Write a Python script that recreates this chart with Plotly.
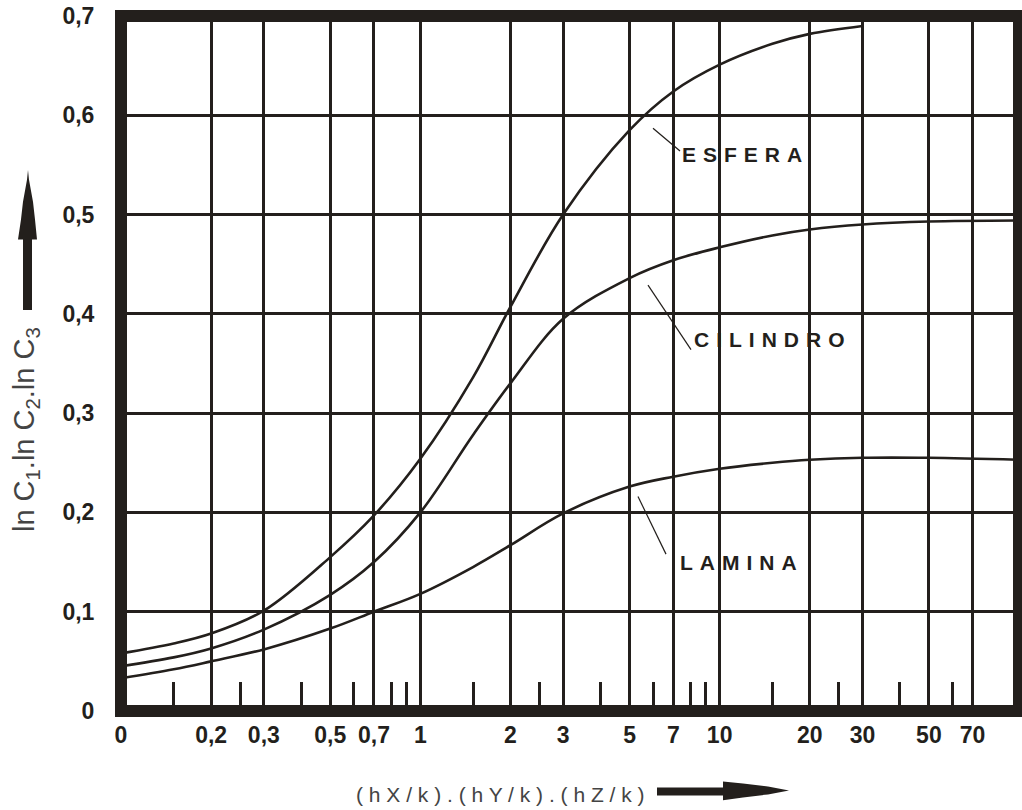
import plotly.graph_objects as go

# ---------------- data ----------------
esfera_x = [0.1, 0.15, 0.2, 0.3, 0.5, 0.7, 1, 1.5, 2, 3, 5, 7, 10, 15, 20, 30]
esfera_y = [0.058, 0.068, 0.078, 0.101, 0.155, 0.197, 0.254, 0.336, 0.407, 0.500,
            0.585, 0.624, 0.651, 0.672, 0.682, 0.690]

cilindro_x = [0.1, 0.15, 0.2, 0.3, 0.5, 0.7, 1, 1.5, 2, 3, 5, 7, 10, 15, 20, 30, 50, 100]
cilindro_y = [0.045, 0.054, 0.063, 0.082, 0.117, 0.150, 0.200, 0.278, 0.330, 0.395,
              0.436, 0.454, 0.467, 0.479, 0.485, 0.490, 0.493, 0.494]

lamina_x = [0.1, 0.15, 0.2, 0.3, 0.5, 0.7, 1, 1.5, 2, 3, 5, 7, 10, 15, 20, 30, 50, 100]
lamina_y = [0.033, 0.042, 0.050, 0.062, 0.083, 0.100, 0.118, 0.145, 0.167, 0.199,
            0.226, 0.236, 0.244, 0.250, 0.253, 0.255, 0.255, 0.253]

x_major = [0.1, 0.2, 0.3, 0.5, 0.7, 1, 2, 3, 5, 7, 10, 20, 30, 50, 70]
x_labels = ["0", "0,2", "0,3", "0,5", "0,7", "1", "2", "3", "5", "7", "10", "20", "30", "50", "70"]
x_minor = [0.15, 0.25, 0.4, 0.6, 0.8, 0.9, 1.5, 2.5, 4, 6, 8, 9, 15, 25, 40, 60]

y_major = [0, 0.1, 0.2, 0.3, 0.4, 0.5, 0.6, 0.7]
y_labels = ["0", "0,1", "0,2", "0,3", "0,4", "0,5", "0,6", "0,7"]

curve_names = ["ESFERA", "CILINDRO", "LAMINA"]

# ---------------- layout helpers ----------------
W, H = 1022, 810
L, R, T, B = 121, 3, 11, 99
PW, PH = W - L - R, H - T - B
INK = "#231f1c"
GREY = "#444444"
FONT = "Liberation Sans"


def px(x):
    return (x - L) / PW


def py(y):
    return (H - B - y) / PH


fig = go.Figure()
for xs, ys, name in [(esfera_x, esfera_y, curve_names[0]),
                     (cilindro_x, cilindro_y, curve_names[1]),
                     (lamina_x, lamina_y, curve_names[2])]:
    fig.add_trace(go.Scatter(x=xs, y=ys, mode="lines", name=name,
                             line=dict(color=INK, width=2.6, shape="spline", smoothing=1.0),
                             hoverinfo="skip", showlegend=False))

fig.update_layout(
    width=W, height=H,
    margin=dict(l=L, r=R, t=T, b=B, pad=0),
    paper_bgcolor="white", plot_bgcolor="white",
    showlegend=False,
    xaxis=dict(
        type="log", range=[-1, 2],
        tickmode="array", tickvals=x_major, ticktext=x_labels,
        ticks="outside", ticklen=3, tickcolor="rgba(0,0,0,0)",
        tickfont=dict(family=FONT, size=23, color=INK, weight="bold"),
        ticklabeloverflow="allow",
        showgrid=True, gridcolor=INK, gridwidth=3,
        zeroline=False, showline=False,
        minor=dict(tickmode="array", tickvals=x_minor, ticks="inside",
                   ticklen=29, tickwidth=3, tickcolor=INK, showgrid=False),
    ),
    yaxis=dict(
        range=[0, 0.7],
        tickmode="array", tickvals=y_major, ticktext=y_labels,
        ticks="outside", ticklen=21, tickcolor="rgba(0,0,0,0)",
        tickfont=dict(family=FONT, size=23, color=INK, weight="bold"),
        ticklabeloverflow="allow",
        showgrid=True, gridcolor=INK, gridwidth=3,
        zeroline=False, showline=False,
    ),
)

shapes = []
# thick frame
shapes.append(dict(type="rect", xref="paper", yref="paper", x0=0, x1=1, y0=0, y1=1,
                   line=dict(color=INK, width=12), layer="above"))

# leader lines for curve labels
for (x0, y0, x1, y1) in [(653, 124, 680, 147), (648, 282, 691, 347), (638, 495, 666, 553)]:
    shapes.append(dict(type="line", xref="paper", yref="paper",
                       x0=px(x0), y0=py(y0), x1=px(x1), y1=py(y1),
                       line=dict(color=INK, width=1.2)))

# vertical arrow (left)
va = [(23, 307), (32, 307), (32, 236), (37, 236), (35, 216), (33, 198), (29, 176), (28, 166),
      (27, 176), (23, 198), (21, 216), (18, 236), (23, 236)]
path = "M " + " L ".join(f"{px(a):.5f},{py(b):.5f}" for a, b in va) + " Z"
shapes.append(dict(type="path", xref="paper", yref="paper", path=path,
                   fillcolor=INK, line=dict(color=INK, width=0)))

# horizontal arrow (bottom)
ha = [(657, 788), (723, 788), (723, 782), (743, 784), (768, 787), (789, 791), (768, 795),
      (743, 798), (723, 801), (723, 796), (657, 796)]
path = "M " + " L ".join(f"{px(a):.5f},{py(b):.5f}" for a, b in ha) + " Z"
shapes.append(dict(type="path", xref="paper", yref="paper", path=path,
                   fillcolor=INK, line=dict(color=INK, width=0)))

fig.update_layout(shapes=shapes)

annotations = []
SP = "\u2004"
for name, cx, cy in [(curve_names[0], 742, 151), (curve_names[1], 769, 337), (curve_names[2], 738, 561)]:
    annotations.append(dict(text=SP.join(name), xref="paper", yref="paper",
                            x=px(cx), y=py(cy), xanchor="center", yanchor="middle",
                            showarrow=False,
                            font=dict(family=FONT, size=21, color=INK, weight="bold")))

annotations.append(dict(text="ln C<sub>1</sub>.ln C<sub>2</sub>.ln C<sub>3</sub>",
                        xref="paper", yref="paper", x=px(26), y=py(428),
                        xanchor="center", yanchor="middle", textangle=-90, showarrow=False,
                        font=dict(family=FONT, size=29, color=GREY)))

annotations.append(dict(text=" ".join("(hX/k).(hY/k).(hZ/k)"),
                        xref="paper", yref="paper", x=px(500), y=py(795),
                        xanchor="center", yanchor="middle", showarrow=False,
                        font=dict(family=FONT, size=21, color=GREY)))

fig.update_layout(annotations=annotations)

fig.write_html("out.html", config={"displayModeBar": False},
               post_script="document.body.style.margin='0';")
